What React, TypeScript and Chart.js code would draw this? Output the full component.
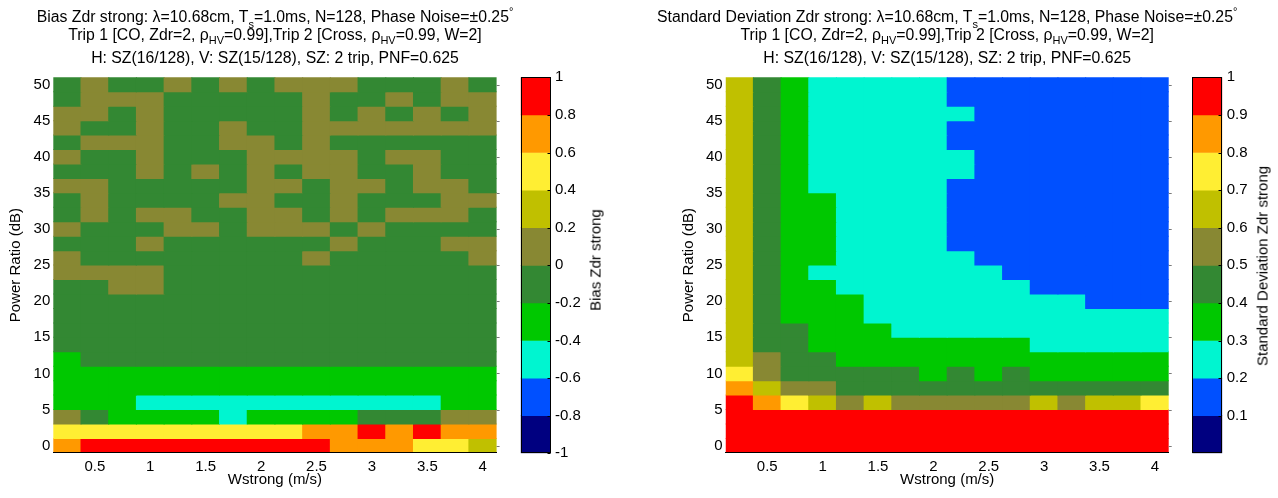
import React, { useEffect, useRef } from 'react';
import { Chart, registerables } from 'chart.js';

Chart.register(...registerables);

const FONT = "'Liberation Sans', Arial, Helvetica, sans-serif";

// Column centres: Wstrong (m/s)
const wStrong = [0.25, 0.5, 0.75, 1.0, 1.25, 1.5, 1.75, 2.0, 2.25, 2.5, 2.75, 3.0, 3.25, 3.5, 3.75, 4.0];
// Row centres: Power Ratio (dB), listed top to bottom
const powerRatio = [50, 48, 46, 44, 42, 40, 38, 36, 34, 32, 30, 28, 26, 24, 22, 20, 18, 16, 14, 12, 10, 8, 6, 4, 2, 0];

const xTickValues = [0.5, 1, 1.5, 2, 2.5, 3, 3.5, 4];
const yTickValues = [0, 5, 10, 15, 20, 25, 30, 35, 40, 45, 50];

// Colour-bar levels
const biasLevels = [-1, -0.8, -0.6, -0.4, -0.2, 0, 0.2, 0.4, 0.6, 0.8, 1];
const biasTickValues = [-1, -0.8, -0.6, -0.4, -0.2, 0, 0.2, 0.4, 0.6, 0.8, 1];
const stdLevels = [0, 0.1, 0.2, 0.3, 0.4, 0.5, 0.6, 0.7, 0.8, 0.9, 1];
const stdTickValues = [0.1, 0.2, 0.3, 0.4, 0.5, 0.6, 0.7, 0.8, 0.9, 1];

const levelColors = [
  '#000080', '#0050ff', '#00f5d0', '#00c800', '#338833',
  '#888833', '#c0c000', '#ffee33', '#ff9900', '#ff0000',
];

// Bias Zdr strong, one row per power ratio (50 dB ... 0 dB), one value per Wstrong
const biasZdr: number[][] = [
  [-0.1, 0.1, -0.1, -0.1, 0.1, -0.1, 0.1, -0.1, 0.1, 0.1, 0.1, -0.1, -0.1, -0.1, 0.1, -0.1],
  [-0.1, 0.1, 0.1, 0.1, -0.1, -0.1, -0.1, -0.1, -0.1, 0.1, -0.1, -0.1, 0.1, -0.1, 0.1, 0.1],
  [0.1, 0.1, -0.1, 0.1, -0.1, -0.1, -0.1, -0.1, -0.1, 0.1, -0.1, 0.1, -0.1, 0.1, -0.1, 0.1],
  [0.1, -0.1, -0.1, 0.1, -0.1, -0.1, 0.1, -0.1, -0.1, 0.1, 0.1, 0.1, 0.1, 0.1, 0.1, 0.1],
  [-0.1, 0.1, 0.1, 0.1, -0.1, -0.1, 0.1, 0.1, -0.1, 0.1, -0.1, -0.1, -0.1, -0.1, -0.1, -0.1],
  [0.1, -0.1, -0.1, 0.1, -0.1, -0.1, -0.1, 0.1, 0.1, 0.1, 0.1, -0.1, 0.1, 0.1, -0.1, -0.1],
  [-0.1, -0.1, -0.1, 0.1, -0.1, 0.1, -0.1, 0.1, -0.1, 0.1, 0.1, -0.1, -0.1, 0.1, -0.1, -0.1],
  [0.1, 0.1, -0.1, -0.1, -0.1, -0.1, -0.1, 0.1, 0.1, -0.1, 0.1, 0.1, -0.1, 0.1, 0.1, -0.1],
  [-0.1, 0.1, -0.1, -0.1, -0.1, -0.1, 0.1, 0.1, -0.1, -0.1, 0.1, -0.1, -0.1, -0.1, 0.1, 0.1],
  [-0.1, 0.1, -0.1, 0.1, 0.1, -0.1, -0.1, 0.1, 0.1, -0.1, 0.1, -0.1, 0.1, 0.1, 0.1, -0.1],
  [0.1, -0.1, -0.1, -0.1, 0.1, 0.1, -0.1, 0.1, 0.1, 0.1, -0.1, 0.1, -0.1, -0.1, -0.1, -0.1],
  [-0.1, -0.1, -0.1, 0.1, -0.1, -0.1, -0.1, -0.1, -0.1, -0.1, 0.1, -0.1, -0.1, -0.1, 0.1, 0.1],
  [0.1, -0.1, -0.1, -0.1, -0.1, -0.1, -0.1, -0.1, -0.1, 0.1, -0.1, -0.1, -0.1, -0.1, -0.1, 0.1],
  [0.1, 0.1, 0.1, 0.1, -0.1, -0.1, -0.1, -0.1, -0.1, -0.1, -0.1, -0.1, -0.1, -0.1, -0.1, -0.1],
  [-0.1, -0.1, 0.1, 0.1, -0.1, -0.1, -0.1, -0.1, -0.1, -0.1, -0.1, -0.1, -0.1, -0.1, -0.1, -0.1],
  [-0.1, -0.1, -0.1, -0.1, -0.1, -0.1, -0.1, -0.1, -0.1, -0.1, -0.1, -0.1, -0.1, -0.1, -0.1, -0.1],
  [-0.1, -0.1, -0.1, -0.1, -0.1, -0.1, -0.1, -0.1, -0.1, -0.1, -0.1, -0.1, -0.1, -0.1, -0.1, -0.1],
  [-0.1, -0.1, -0.1, -0.1, -0.1, -0.1, -0.1, -0.1, -0.1, -0.1, -0.1, -0.1, -0.1, -0.1, -0.1, -0.1],
  [-0.1, -0.1, -0.1, -0.1, -0.1, -0.1, -0.1, -0.1, -0.1, -0.1, -0.1, -0.1, -0.1, -0.1, -0.1, -0.1],
  [-0.3, -0.1, -0.1, -0.1, -0.1, -0.1, -0.1, -0.1, -0.1, -0.1, -0.1, -0.1, -0.1, -0.1, -0.1, -0.1],
  [-0.3, -0.3, -0.3, -0.3, -0.3, -0.3, -0.3, -0.3, -0.3, -0.3, -0.3, -0.3, -0.3, -0.3, -0.3, -0.3],
  [-0.3, -0.3, -0.3, -0.3, -0.3, -0.3, -0.3, -0.3, -0.3, -0.3, -0.3, -0.3, -0.3, -0.3, -0.3, -0.3],
  [-0.3, -0.3, -0.3, -0.5, -0.5, -0.5, -0.5, -0.5, -0.5, -0.5, -0.5, -0.5, -0.5, -0.5, -0.3, -0.3],
  [0.1, -0.1, -0.3, -0.3, -0.3, -0.3, -0.5, -0.3, -0.3, -0.3, -0.3, -0.1, -0.1, -0.1, 0.1, 0.1],
  [0.5, 0.5, 0.5, 0.5, 0.5, 0.5, 0.5, 0.5, 0.5, 0.7, 0.7, 0.9, 0.7, 0.9, 0.7, 0.7],
  [0.7, 0.9, 0.9, 0.9, 0.9, 0.9, 0.9, 0.9, 0.9, 0.9, 0.7, 0.7, 0.7, 0.5, 0.5, 0.3],
];

// Standard deviation Zdr strong, same layout
const stdZdr: number[][] = [
  [0.65, 0.45, 0.35, 0.25, 0.25, 0.25, 0.25, 0.25, 0.15, 0.15, 0.15, 0.15, 0.15, 0.15, 0.15, 0.15],
  [0.65, 0.45, 0.35, 0.25, 0.25, 0.25, 0.25, 0.25, 0.15, 0.15, 0.15, 0.15, 0.15, 0.15, 0.15, 0.15],
  [0.65, 0.45, 0.35, 0.25, 0.25, 0.25, 0.25, 0.25, 0.25, 0.15, 0.15, 0.15, 0.15, 0.15, 0.15, 0.15],
  [0.65, 0.45, 0.35, 0.25, 0.25, 0.25, 0.25, 0.25, 0.15, 0.15, 0.15, 0.15, 0.15, 0.15, 0.15, 0.15],
  [0.65, 0.45, 0.35, 0.25, 0.25, 0.25, 0.25, 0.25, 0.15, 0.15, 0.15, 0.15, 0.15, 0.15, 0.15, 0.15],
  [0.65, 0.45, 0.35, 0.25, 0.25, 0.25, 0.25, 0.25, 0.25, 0.15, 0.15, 0.15, 0.15, 0.15, 0.15, 0.15],
  [0.65, 0.45, 0.35, 0.25, 0.25, 0.25, 0.25, 0.25, 0.25, 0.15, 0.15, 0.15, 0.15, 0.15, 0.15, 0.15],
  [0.65, 0.45, 0.35, 0.25, 0.25, 0.25, 0.25, 0.25, 0.15, 0.15, 0.15, 0.15, 0.15, 0.15, 0.15, 0.15],
  [0.65, 0.45, 0.35, 0.35, 0.25, 0.25, 0.25, 0.25, 0.15, 0.15, 0.15, 0.15, 0.15, 0.15, 0.15, 0.15],
  [0.65, 0.45, 0.35, 0.35, 0.25, 0.25, 0.25, 0.25, 0.15, 0.15, 0.15, 0.15, 0.15, 0.15, 0.15, 0.15],
  [0.65, 0.45, 0.35, 0.35, 0.25, 0.25, 0.25, 0.25, 0.15, 0.15, 0.15, 0.15, 0.15, 0.15, 0.15, 0.15],
  [0.65, 0.45, 0.35, 0.35, 0.25, 0.25, 0.25, 0.25, 0.15, 0.15, 0.15, 0.15, 0.15, 0.15, 0.15, 0.15],
  [0.65, 0.45, 0.35, 0.35, 0.25, 0.25, 0.25, 0.25, 0.25, 0.15, 0.15, 0.15, 0.15, 0.15, 0.15, 0.15],
  [0.65, 0.45, 0.35, 0.25, 0.25, 0.25, 0.25, 0.25, 0.25, 0.25, 0.15, 0.15, 0.15, 0.15, 0.15, 0.15],
  [0.65, 0.45, 0.35, 0.35, 0.25, 0.25, 0.25, 0.25, 0.25, 0.25, 0.25, 0.15, 0.15, 0.15, 0.15, 0.15],
  [0.65, 0.45, 0.35, 0.35, 0.35, 0.25, 0.25, 0.25, 0.25, 0.25, 0.25, 0.25, 0.25, 0.15, 0.15, 0.15],
  [0.65, 0.45, 0.35, 0.35, 0.35, 0.25, 0.25, 0.25, 0.25, 0.25, 0.25, 0.25, 0.25, 0.25, 0.25, 0.25],
  [0.65, 0.45, 0.45, 0.35, 0.35, 0.35, 0.25, 0.25, 0.25, 0.25, 0.25, 0.25, 0.25, 0.25, 0.25, 0.25],
  [0.65, 0.45, 0.45, 0.35, 0.35, 0.35, 0.35, 0.35, 0.35, 0.35, 0.35, 0.25, 0.25, 0.25, 0.25, 0.25],
  [0.65, 0.55, 0.45, 0.45, 0.35, 0.35, 0.35, 0.35, 0.35, 0.35, 0.35, 0.35, 0.35, 0.35, 0.35, 0.35],
  [0.75, 0.55, 0.45, 0.45, 0.45, 0.45, 0.45, 0.35, 0.45, 0.35, 0.45, 0.35, 0.35, 0.35, 0.35, 0.35],
  [0.85, 0.65, 0.55, 0.55, 0.45, 0.45, 0.45, 0.45, 0.45, 0.45, 0.45, 0.45, 0.45, 0.45, 0.45, 0.45],
  [0.95, 0.85, 0.75, 0.65, 0.55, 0.65, 0.55, 0.55, 0.55, 0.55, 0.55, 0.65, 0.55, 0.65, 0.65, 0.75],
  [0.95, 0.95, 0.95, 0.95, 0.95, 0.95, 0.95, 0.95, 0.95, 0.95, 0.95, 0.95, 0.95, 0.95, 0.95, 0.95],
  [0.95, 0.95, 0.95, 0.95, 0.95, 0.95, 0.95, 0.95, 0.95, 0.95, 0.95, 0.95, 0.95, 0.95, 0.95, 0.95],
  [0.95, 0.95, 0.95, 0.95, 0.95, 0.95, 0.95, 0.95, 0.95, 0.95, 0.95, 0.95, 0.95, 0.95, 0.95, 0.95],
];

function colorFor(v: number, levels: number[]): string {
  for (let i = 0; i < levels.length - 1; i++) {
    if (v < levels[i + 1]) return levelColors[i];
  }
  return levelColors[levelColors.length - 1];
}

const H = 498;
const AREA_TOP = 77.3;
const AREA_BOTTOM = 452.9;

const tickFont = { family: FONT, size: 15 };

const rightEdgeTicks = {
  id: 'rightEdgeTicks',
  afterDatasetsDraw(chart: any) {
    const { ctx, chartArea, scales } = chart;
    const y = scales.y;
    ctx.save();
    ctx.strokeStyle = '#7a7a7a';
    ctx.lineWidth = 1;
    y.ticks.forEach((t: any) => {
      const py = Math.round(y.getPixelForValue(t.value)) + 0.5;
      ctx.beginPath();
      ctx.moveTo(chartArea.right, py);
      ctx.lineTo(chartArea.right + 3, py);
      ctx.stroke();
    });
    ctx.restore();
  },
};

const colorbarFrame = {
  id: 'colorbarFrame',
  afterDatasetsDraw(chart: any) {
    const { ctx, chartArea: a, scales } = chart;
    const y = scales.y;
    const L = Math.round(a.left) + 0.5;
    const R = Math.round(a.right) - 0.5;
    const T = Math.round(a.top) + 0.5;
    const B = Math.round(a.bottom) - 0.5;
    ctx.save();
    ctx.strokeStyle = '#000';
    ctx.lineWidth = 1;
    ctx.strokeRect(L, T, R - L, B - T);
    y.ticks.forEach((t: any) => {
      const py = Math.round(y.getPixelForValue(t.value)) + 0.5;
      ctx.beginPath();
      ctx.moveTo(R - 3, py);
      ctx.lineTo(R, py);
      ctx.stroke();
    });
    ctx.restore();
  },
};

type HeatProps = { left: number; width: number; axisW: number; areaW: number; titlePad: number; values: number[][]; levels: number[] };

function Heatmap({ left, width, axisW, areaW, titlePad, values, levels }: HeatProps) {
  const ref = useRef<HTMLCanvasElement>(null);
  useEffect(() => {
    const halfY = (powerRatio[0] - powerRatio[1]) / 2;
    const halfX = (wStrong[1] - wStrong[0]) / 2;
    const datasets = powerRatio.map((db, r) => ({
      data: wStrong.map((w) => ({ x: w, y: [db - halfY, db + halfY] })),
      backgroundColor: values[r].map((v) => colorFor(v, levels)),
      borderWidth: 0,
      inflateAmount: 0.5,
      grouped: false,
      barPercentage: 1,
      categoryPercentage: 1,
    }));
    const chart = new Chart(ref.current as HTMLCanvasElement, {
      type: 'bar',
      data: { datasets } as any,
      options: {
        responsive: false,
        animation: false,
        devicePixelRatio: 1,
        events: [],
        layout: { padding: { left: 0, top: AREA_TOP, right: width - axisW - areaW, bottom: 0 } },
        plugins: { legend: { display: false }, tooltip: { enabled: false }, title: { display: false } },
        scales: {
          x: {
            type: 'linear',
            min: wStrong[0] - halfX,
            max: wStrong[wStrong.length - 1] + halfX,
            offset: false,
            grid: { display: false, drawTicks: false },
            border: { display: true, color: '#000', width: 1, z: 1 },
            ticks: { padding: 5, color: '#000', font: tickFont, maxRotation: 0, autoSkip: false, callback: (v: any) => String(v) },
            afterBuildTicks: (s: any) => { s.ticks = xTickValues.map((v) => ({ value: v })); },
            afterFit: (s: any) => { s.height = H - AREA_BOTTOM; },
            title: { display: true, text: 'Wstrong (m/s)', color: '#000', font: tickFont, padding: { top: 0, bottom: 9.5 } },
          },
          y: {
            type: 'linear',
            min: powerRatio[powerRatio.length - 1] - halfY,
            max: powerRatio[0] + halfY,
            grid: { display: false, drawTicks: false },
            border: { display: false },
            ticks: { padding: 3, color: '#000', font: tickFont, autoSkip: false, callback: (v: any) => String(v) },
            afterBuildTicks: (s: any) => { s.ticks = yTickValues.map((v) => ({ value: v })); },
            afterFit: (s: any) => { s.width = axisW; },
            title: { display: true, text: 'Power Ratio (dB)', color: '#000', font: tickFont, padding: { top: titlePad, bottom: 0 } },
          },
        },
      } as any,
      plugins: [rightEdgeTicks],
    });
    return () => chart.destroy();
  }, []);
  return <canvas ref={ref} width={width} height={H} style={{ position: 'absolute', left, top: 0, width, height: H }} />;
}

type BarProps = { left: number; width: number; barLeft: number; levels: number[]; tickValues: number[]; labelPad: number };

function ColorBar({ left, width, barLeft, levels, tickValues, labelPad }: BarProps) {
  const ref = useRef<HTMLCanvasElement>(null);
  const barW = 30;
  useEffect(() => {
    const data = levelColors.map((_, i) => ({ x: 0.5, y: [levels[i], levels[i + 1]] }));
    const chart = new Chart(ref.current as HTMLCanvasElement, {
      type: 'bar',
      data: { datasets: [{ data, backgroundColor: levelColors, borderWidth: 0, grouped: false, barThickness: barW }] } as any,
      options: {
        responsive: false,
        animation: false,
        devicePixelRatio: 1,
        events: [],
        layout: { padding: { left: barLeft, top: AREA_TOP, right: 0, bottom: H - 453.3 } },
        plugins: { legend: { display: false }, tooltip: { enabled: false } },
        scales: {
          x: { type: 'linear', min: 0, max: 1, display: false },
          y: {
            type: 'linear',
            position: 'right',
            min: levels[0],
            max: levels[levels.length - 1],
            grid: { display: false, drawTicks: false },
            border: { display: false },
            ticks: { padding: labelPad, color: '#000', font: tickFont, autoSkip: false, callback: (v: any) => String(v) },
            afterBuildTicks: (s: any) => { s.ticks = tickValues.map((v) => ({ value: v })); },
            afterFit: (s: any) => { s.width = width - barLeft - barW; },
          },
        },
      } as any,
      plugins: [colorbarFrame],
    });
    return () => chart.destroy();
  }, []);
  return <canvas ref={ref} width={width} height={H} style={{ position: 'absolute', left, top: 0, width, height: H }} />;
}

const TITLE_SIZE = 15.8;
const subLowStyle: React.CSSProperties = { fontSize: 11, position: 'relative', top: 6, lineHeight: 0 };
const subStyle: React.CSSProperties = { fontSize: 11, position: 'relative', top: 4, lineHeight: 0 };
const supStyle: React.CSSProperties = { fontSize: 11, position: 'relative', top: -6.5, lineHeight: 0 };

function TitleBlock({ cx, name }: { cx: number; name: string }) {
  const line = (top: number): React.CSSProperties => ({
    position: 'absolute', left: cx - 400, width: 800, top, textAlign: 'center',
    fontSize: TITLE_SIZE, lineHeight: `${TITLE_SIZE}px`, whiteSpace: 'nowrap',
  });
  return (
    <>
      <div style={line(8.9)}>
        {name}: λ=10.68cm, T<span style={subLowStyle}>s</span>=1.0ms, N=128, Phase Noise=±0.25<span style={supStyle}>°</span>
      </div>
      <div style={line(27.3)}>
        Trip 1 [CO, Zdr=2, ρ<span style={subStyle}>HV</span>=0.99],Trip 2 [Cross, ρ<span style={subStyle}>HV</span>=0.99, W=2]
      </div>
      <div style={line(49.6)}>H: SZ(16/128), V: SZ(15/128), SZ: 2 trip, PNF=0.625</div>
    </>
  );
}

function BarTitle({ cx, cy, text }: { cx: number; cy: number; text: string }) {
  return (
    <div style={{
      position: 'absolute', left: cx, top: cy, transform: 'translate(-50%, -50%) rotate(-90deg)',
      whiteSpace: 'nowrap', fontSize: 15, lineHeight: '15px',
    }}>{text}</div>
  );
}

export default function App() {
  return (
    <div style={{ position: 'absolute', left: 0, top: 0, width: 1278, height: H, background: '#fff', color: '#000', fontFamily: FONT, overflow: 'hidden' }}>
      <Heatmap left={0} width={510} axisW={53.3} areaW={443.3} titlePad={7} values={biasZdr} levels={biasLevels} />
      <ColorBar left={500} width={110} barLeft={20.7} levels={biasLevels} tickValues={biasTickValues} labelPad={4.3} />
      <Heatmap left={672} width={510} axisW={53.7} areaW={443} titlePad={7.4} values={stdZdr} levels={stdLevels} />
      <ColorBar left={1172} width={106} barLeft={20.3} levels={stdLevels} tickValues={stdTickValues} labelPad={4.4} />
      <TitleBlock cx={275} name="Bias Zdr strong" />
      <TitleBlock cx={947.2} name="Standard Deviation Zdr strong" />
      <BarTitle cx={595} cy={260} text="Bias Zdr strong" />
      <BarTitle cx={1261.6} cy={265.5} text="Standard Deviation Zdr strong" />
    </div>
  );
}
